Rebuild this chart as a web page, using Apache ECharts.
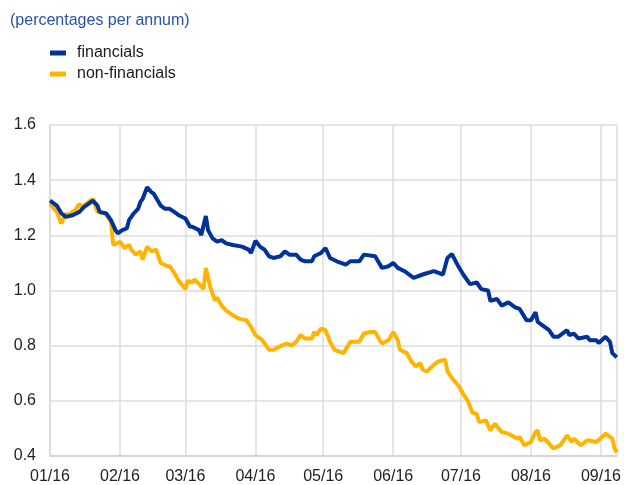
<!DOCTYPE html>
<html>
<head>
<meta charset="utf-8">
<script src="https://cdn.jsdelivr.net/npm/echarts@6/dist/echarts.min.js"></script>
<style>
html,body{margin:0;padding:0;background:#fff;}
#c{width:624px;height:485px;}
</style>
</head>
<body>
<div id="c"></div>
<script>
const yTicks = [0.4, 0.6, 0.8, 1.0, 1.2, 1.4, 1.6];
const seriesNames = ['financials', 'non-financials'];

const finDates = ['2016-01-01','2016-01-04','2016-01-06','2016-01-08','2016-01-11','2016-01-14','2016-01-16','2016-01-18','2016-01-20','2016-01-22','2016-01-23','2016-01-26','2016-01-28','2016-01-30','2016-01-31',
'2016-02-02','2016-02-04','2016-02-05','2016-02-07','2016-02-09','2016-02-10','2016-02-11','2016-02-13','2016-02-15','2016-02-16','2016-02-19','2016-02-21','2016-02-23','2016-02-25','2016-02-27',
'2016-03-01','2016-03-03','2016-03-04','2016-03-07','2016-03-08','2016-03-10','2016-03-11','2016-03-13','2016-03-15','2016-03-17','2016-03-19','2016-03-22','2016-03-26','2016-03-29','2016-03-30',
'2016-04-01','2016-04-03','2016-04-05','2016-04-07','2016-04-09','2016-04-12','2016-04-14','2016-04-16','2016-04-19','2016-04-21','2016-04-23','2016-04-26','2016-04-27','2016-04-30',
'2016-05-02','2016-05-04','2016-05-07','2016-05-11','2016-05-13','2016-05-17','2016-05-19','2016-05-24','2016-05-27','2016-05-30',
'2016-06-01','2016-06-03','2016-06-06','2016-06-10','2016-06-14','2016-06-19','2016-06-23','2016-06-25','2016-06-27','2016-06-30',
'2016-07-02','2016-07-05','2016-07-08','2016-07-10','2016-07-13','2016-07-14','2016-07-17','2016-07-19','2016-07-22','2016-07-25','2016-07-27','2016-07-30',
'2016-08-01','2016-08-03','2016-08-04','2016-08-07','2016-08-09','2016-08-11','2016-08-13','2016-08-17','2016-08-18','2016-08-20','2016-08-22','2016-08-26','2016-08-27','2016-08-30','2016-08-31',
'2016-09-03','2016-09-05','2016-09-06','2016-09-08'];
const finValues = [1.326,1.308,1.28,1.267,1.273,1.285,1.302,1.314,1.326,1.308,1.285,1.279,1.255,1.219,1.207,
1.219,1.225,1.255,1.279,1.296,1.32,1.332,1.374,1.356,1.35,1.308,1.296,1.296,1.285,1.273,
1.261,1.231,1.231,1.219,1.201,1.27,1.219,1.189,1.177,1.183,1.171,1.165,1.159,1.148,1.136,
1.18,1.159,1.148,1.124,1.118,1.124,1.142,1.13,1.13,1.112,1.106,1.106,1.124,1.136,
1.154,1.118,1.106,1.094,1.106,1.106,1.13,1.124,1.082,1.088,
1.1,1.082,1.07,1.046,1.058,1.07,1.058,1.118,1.132,1.085,
1.058,1.023,1.029,1.005,1.0,0.963,0.969,0.945,0.957,0.939,0.933,0.892,
0.892,0.921,0.886,0.868,0.856,0.832,0.832,0.856,0.838,0.844,0.826,0.832,0.82,0.82,0.81,
0.832,0.814,0.773,0.758];

const nfDates = ['2016-01-01','2016-01-04','2016-01-06','2016-01-08','2016-01-09','2016-01-12','2016-01-14','2016-01-15','2016-01-17','2016-01-20','2016-01-22','2016-01-25','2016-01-26','2016-01-28','2016-01-29',
'2016-02-01','2016-02-03','2016-02-05','2016-02-06','2016-02-08','2016-02-10','2016-02-11','2016-02-13','2016-02-15','2016-02-17','2016-02-19','2016-02-22','2016-02-23','2016-02-25','2016-02-27',
'2016-03-01','2016-03-02','2016-03-04','2016-03-05','2016-03-07','2016-03-09','2016-03-10','2016-03-12','2016-03-14','2016-03-15','2016-03-17','2016-03-19','2016-03-22','2016-03-25','2016-03-28','2016-03-30',
'2016-04-01','2016-04-04','2016-04-07','2016-04-09','2016-04-13','2016-04-15','2016-04-17','2016-04-19','2016-04-21','2016-04-23','2016-04-26','2016-04-27','2016-04-28','2016-04-30',
'2016-05-02','2016-05-04','2016-05-06','2016-05-10','2016-05-13','2016-05-17','2016-05-19','2016-05-22','2016-05-24','2016-05-26','2016-05-27','2016-05-30',
'2016-06-01','2016-06-03','2016-06-04','2016-06-07','2016-06-09','2016-06-11','2016-06-13','2016-06-14','2016-06-16','2016-06-19','2016-06-21','2016-06-24','2016-06-25','2016-06-27','2016-06-30',
'2016-07-02','2016-07-04','2016-07-06','2016-07-08','2016-07-09','2016-07-12','2016-07-14','2016-07-16','2016-07-19','2016-07-22','2016-07-26','2016-07-27','2016-07-29',
'2016-08-01','2016-08-03','2016-08-04','2016-08-05','2016-08-07','2016-08-11','2016-08-14','2016-08-17','2016-08-19','2016-08-20','2016-08-23','2016-08-26','2016-08-30',
'2016-09-03','2016-09-06','2016-09-07','2016-09-08'];
const nfValues = [1.314,1.285,1.243,1.279,1.273,1.29,1.314,1.302,1.314,1.332,1.285,1.279,1.273,1.249,1.165,
1.177,1.154,1.165,1.148,1.13,1.142,1.112,1.159,1.142,1.148,1.1,1.088,1.088,1.064,1.035,
1.005,1.035,1.029,1.04,1.023,1.005,1.082,1.011,0.963,0.975,0.945,0.927,0.91,0.897,0.892,0.868,
0.838,0.82,0.785,0.785,0.802,0.808,0.8,0.814,0.838,0.826,0.826,0.85,0.838,0.862,
0.856,0.814,0.785,0.773,0.814,0.814,0.844,0.85,0.85,0.82,0.808,0.82,
0.85,0.82,0.785,0.773,0.743,0.725,0.737,0.713,0.707,0.731,0.743,0.749,0.707,0.683,0.654,
0.624,0.6,0.558,0.552,0.523,0.529,0.493,0.517,0.487,0.481,0.463,0.469,0.439,
0.451,0.487,0.493,0.457,0.463,0.427,0.439,0.475,0.451,0.463,0.439,0.457,0.451,
0.481,0.463,0.427,0.413];

const colors = ['#003299', '#FFB400'];
const FONT = 'Arial, "Liberation Sans", Helvetica, sans-serif';

function pair(dates, vals) { return dates.map((d, i) => [d, vals[i]]); }
function pad(n) { return (n < 10 ? '0' : '') + n; }

const chart = echarts.init(document.getElementById('c'), null, {renderer: 'canvas'});
chart.setOption({
  animation: false,
  backgroundColor: '#ffffff',
  title: {
    text: '(percentages per annum)',
    left: 5, top: 8,
    textStyle: {fontFamily: FONT, fontSize: 16, fontWeight: 'normal', color: '#2a52a8'}
  },
  legend: {
    orient: 'vertical',
    left: 45, top: 40,
    itemWidth: 16, itemHeight: 5, itemGap: 5,
    icon: 'rect',
    textStyle: {fontFamily: FONT, fontSize: 16, color: '#1a1a1a', padding: [0, 0, 0, 6]},
    data: seriesNames
  },
  grid: {left: 50, right: 7, top: 125, bottom: 25.5, containLabel: false},
  xAxis: {
    type: 'time',
    min: '2016-01-01',
    max: '2016-09-08',
    minInterval: 28 * 86400000,
    maxInterval: 31 * 86400000,
    axisLine: {show: true, lineStyle: {color: '#d4d4d4', width: 2}},
    axisTick: {show: false},
    splitLine: {show: true, lineStyle: {color: '#dcdcdc', width: 1.5}},
    axisLabel: {
      fontFamily: FONT, fontSize: 16, color: '#222', margin: 13,
      hideOverlap: false, showMinLabel: true,
      formatter: function (v) { const d = new Date(v); return pad(d.getMonth() + 1) + '/' + String(d.getFullYear()).slice(2); }
    }
  },
  yAxis: {
    type: 'value',
    min: yTicks[0], max: yTicks[yTicks.length - 1], interval: 0.2,
    axisLine: {show: true, lineStyle: {color: '#dcdcdc', width: 1.5}},
    axisTick: {show: false},
    splitLine: {show: true, lineStyle: {color: '#dcdcdc', width: 1.5}},
    axisLabel: {fontFamily: FONT, fontSize: 16, color: '#222', margin: 14, padding: [0, 0, 4, 0], formatter: v => v.toFixed(1)}
  },
  series: [
    {name: seriesNames[0], type: 'line', data: pair(finDates, finValues), showSymbol: false, symbol: 'none',
     lineStyle: {color: colors[0], width: 4}, itemStyle: {color: colors[0]}, z: 3},
    {name: seriesNames[1], type: 'line', data: pair(nfDates, nfValues), showSymbol: false, symbol: 'none',
     lineStyle: {color: colors[1], width: 4}, itemStyle: {color: colors[1]}, z: 2}
  ]
});
</script>
</body>
</html>
